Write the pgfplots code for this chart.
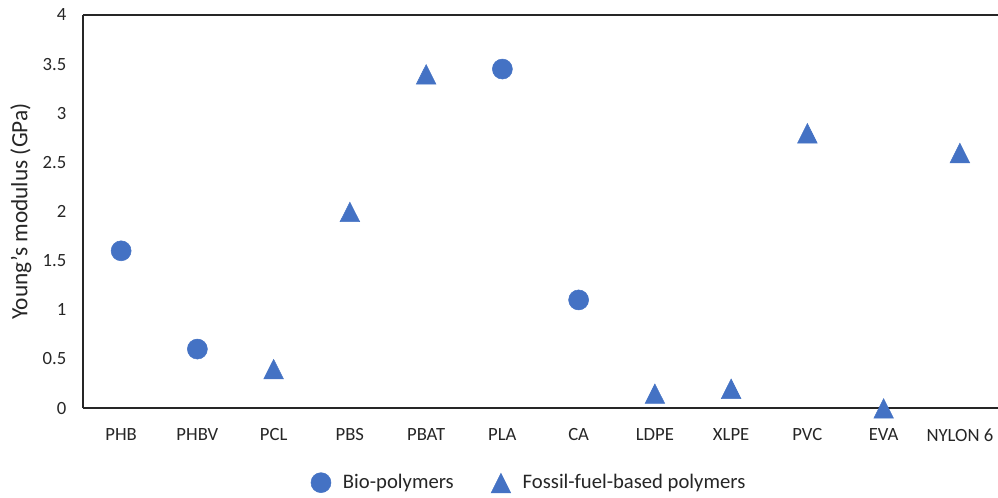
\documentclass[border=0pt]{standalone}
\usepackage{fontspec}
\setmainfont{Carlito}
\usepackage{pgfplots}
\pgfplotsset{compat=1.18}
\definecolor{markblue}{HTML}{4472C4}
\definecolor{axisgray}{HTML}{262626}

\begin{document}
\begin{tikzpicture}
% fixed canvas: 1px = 0.75pt
\useasboundingbox (-62.25pt,-66.75pt) rectangle (686.25pt,306pt);
\begin{axis}[
  anchor=south west, at={(0,0)},
  scale only axis,
  width=686.25pt, height=294.75pt,
  xmin=-0.5, xmax=11.5,
  ymin=0, ymax=4,
  xtick={0,...,11},
  xticklabels={PHB,PHBV,PCL,PBS,PBAT,PLA,CA,LDPE,XLPE,PVC,EVA,NYLON 6},
  ytick={0,0.5,...,4},
  /pgf/number format/fixed,
  /pgf/number format/assume math mode=true,
  major tick length=0pt,
  axis x line*=box,
  axis y line*=left,
  axis line style={axisgray, line width=1pt, -},
  every tick label/.append style={font=\fontsize{14pt}{16pt}\selectfont, text=axisgray},
  x tick label style={yshift=-12pt},
  y tick label style={xshift=-9pt},
  ylabel={Young's modulus (GPa)},
  ylabel style={font=\fontsize{17.5pt}{20pt}\selectfont, text=axisgray,
    at={(axis description cs:-0.068,0.5)}, anchor=center},
  clip=false,
  legend columns=2,
  legend style={
    at={(0.488,-0.19)}, anchor=center, draw=none,
    font=\fontsize{15.5pt}{18pt}\selectfont, text=axisgray,
    /tikz/every odd column/.append style={column sep=7pt},
    /tikz/every even column/.append style={column sep=26pt}
  },
  legend cell align=left,
]
% bio-based polymers
\addplot[only marks, mark=*, mark size=7.5pt, color=markblue]
  coordinates {(0,1.6) (1,0.6) (5,3.45) (6,1.1)};
\addlegendentry{Bio-polymers}
% fossil-fuel-based polymers
\addplot[only marks, mark=triangle*, mark size=8.5pt, color=markblue,
  mark options={yscale=1.15, yshift=-2.4pt}]
  coordinates {(2,0.4) (3,2.0) (4,3.4) (7,0.15) (8,0.2) (9,2.8) (10,0.0) (11,2.6)};
\addlegendentry{Fossil-fuel-based polymers}
\end{axis}
\end{tikzpicture}
\end{document}
